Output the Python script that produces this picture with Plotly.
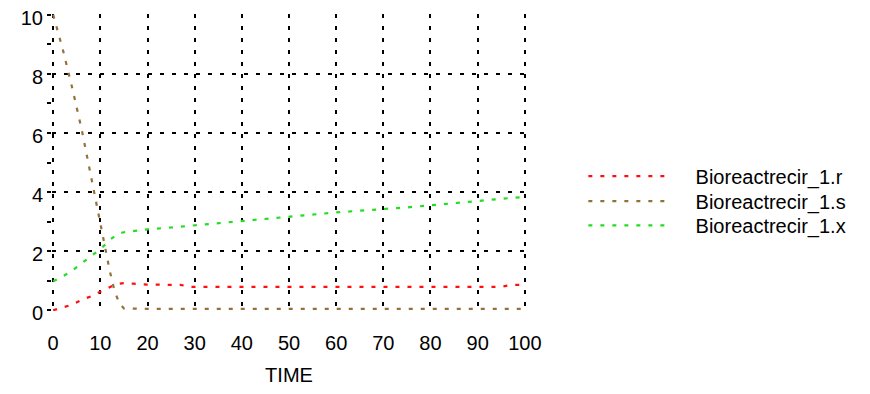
import plotly.graph_objects as go

time = [0, 2, 4, 6, 8, 10, 11, 12, 13, 14, 15, 17, 20, 25, 27, 29, 35, 40, 45, 50,
        55, 60, 65, 70, 75, 80, 85, 90, 95, 97, 100]
r_vals = [0.0, 0.10, 0.19, 0.35, 0.47, 0.63, 0.71, 0.80, 0.86, 0.90, 0.92, 0.90, 0.87, 0.86, 0.86, 0.79, 0.79, 0.79, 0.79, 0.79,
          0.79, 0.79, 0.79, 0.79, 0.79, 0.79, 0.79, 0.79, 0.79, 0.86, 0.86]
s_vals = [10.0, 8.85, 7.55, 6.15, 4.55, 2.9, 2.05, 1.33, 0.66, 0.25, 0.06, 0.05, 0.05, 0.05, 0.05, 0.05, 0.05, 0.05, 0.05, 0.05,
          0.05, 0.05, 0.05, 0.05, 0.05, 0.05, 0.05, 0.05, 0.05, 0.05, 0.05]
x_vals = [0.98, 1.14, 1.34, 1.58, 1.84, 2.07, 2.22, 2.38, 2.50, 2.60, 2.64, 2.69, 2.74, 2.80, 2.83, 2.86, 2.95, 3.01, 3.08, 3.16,
          3.24, 3.31, 3.37, 3.42, 3.48, 3.55, 3.63, 3.70, 3.77, 3.80, 3.83]

series_names = ["Bioreactrecir_1.r", "Bioreactrecir_1.s", "Bioreactrecir_1.x"]
series_values = [r_vals, s_vals, x_vals]
series_colors = ["#ff1010", "#94703c", "#22dd22"]
legend_rows_y = [0.454, 0.370, 0.288]

x_ticks = [0, 10, 20, 30, 40, 50, 60, 70, 80, 90, 100]
y_ticks = [0, 2, 4, 6, 8, 10]

FONT = "Liberation Sans, Arial, sans-serif"
PAD = "\u00a0" * 4

fig = go.Figure()
legend_ids = ["legend", "legend2", "legend3"]
for name, vals, color, lid in zip(series_names, series_values, series_colors, legend_ids):
    fig.add_trace(go.Scatter(
        x=time, y=vals, mode="lines", name=PAD + name, legend=lid,
        line=dict(color=color, width=2.2, dash="4px,8px"),
    ))

legend_common = dict(
    x=1.121, xanchor="left", yanchor="middle",
    font=dict(family=FONT, size=20, color="black"),
    itemwidth=80, bgcolor="rgba(0,0,0,0)",
)

# page body has an 8px default margin, so the figure is sized to fit inside the window
fig.update_layout(
    width=854, height=378,
    margin=dict(l=44, r=336, t=6, b=75),
    paper_bgcolor="white", plot_bgcolor="white",
    font=dict(family=FONT, size=20, color="black"),
    showlegend=True,
    legend=dict(y=legend_rows_y[0], **legend_common),
    legend2=dict(y=legend_rows_y[1], **legend_common),
    legend3=dict(y=legend_rows_y[2], **legend_common),
    xaxis=dict(
        range=[-0.25, 100.25], tickvals=x_ticks, ticktext=[str(v) for v in x_ticks],
        showgrid=True, gridcolor="black", gridwidth=2, griddash="4px,8px",
        zeroline=False, showline=False, automargin=False,
        ticks="", ticklabelstandoff=18, ticklabeloverflow="allow",
        title=dict(text="TIME", font=dict(size=20), standoff=20),
    ),
    yaxis=dict(
        range=[-0.025, 10.025], tickvals=y_ticks, ticktext=[str(v) for v in y_ticks],
        showgrid=True, gridcolor="black", gridwidth=2, griddash="4px,8px",
        zeroline=False, showline=False, automargin=False,
        ticks="outside", ticklen=4, tickcolor="black", tickwidth=1.5,
        ticklabeloverflow="allow", ticklabelshift=3,
        minor=dict(tickvals=[1, 3, 5, 7, 9], ticks="outside", ticklen=4,
                   tickcolor="black", tickwidth=1.5, showgrid=False),
    ),
)

fig.write_html("out.html")
